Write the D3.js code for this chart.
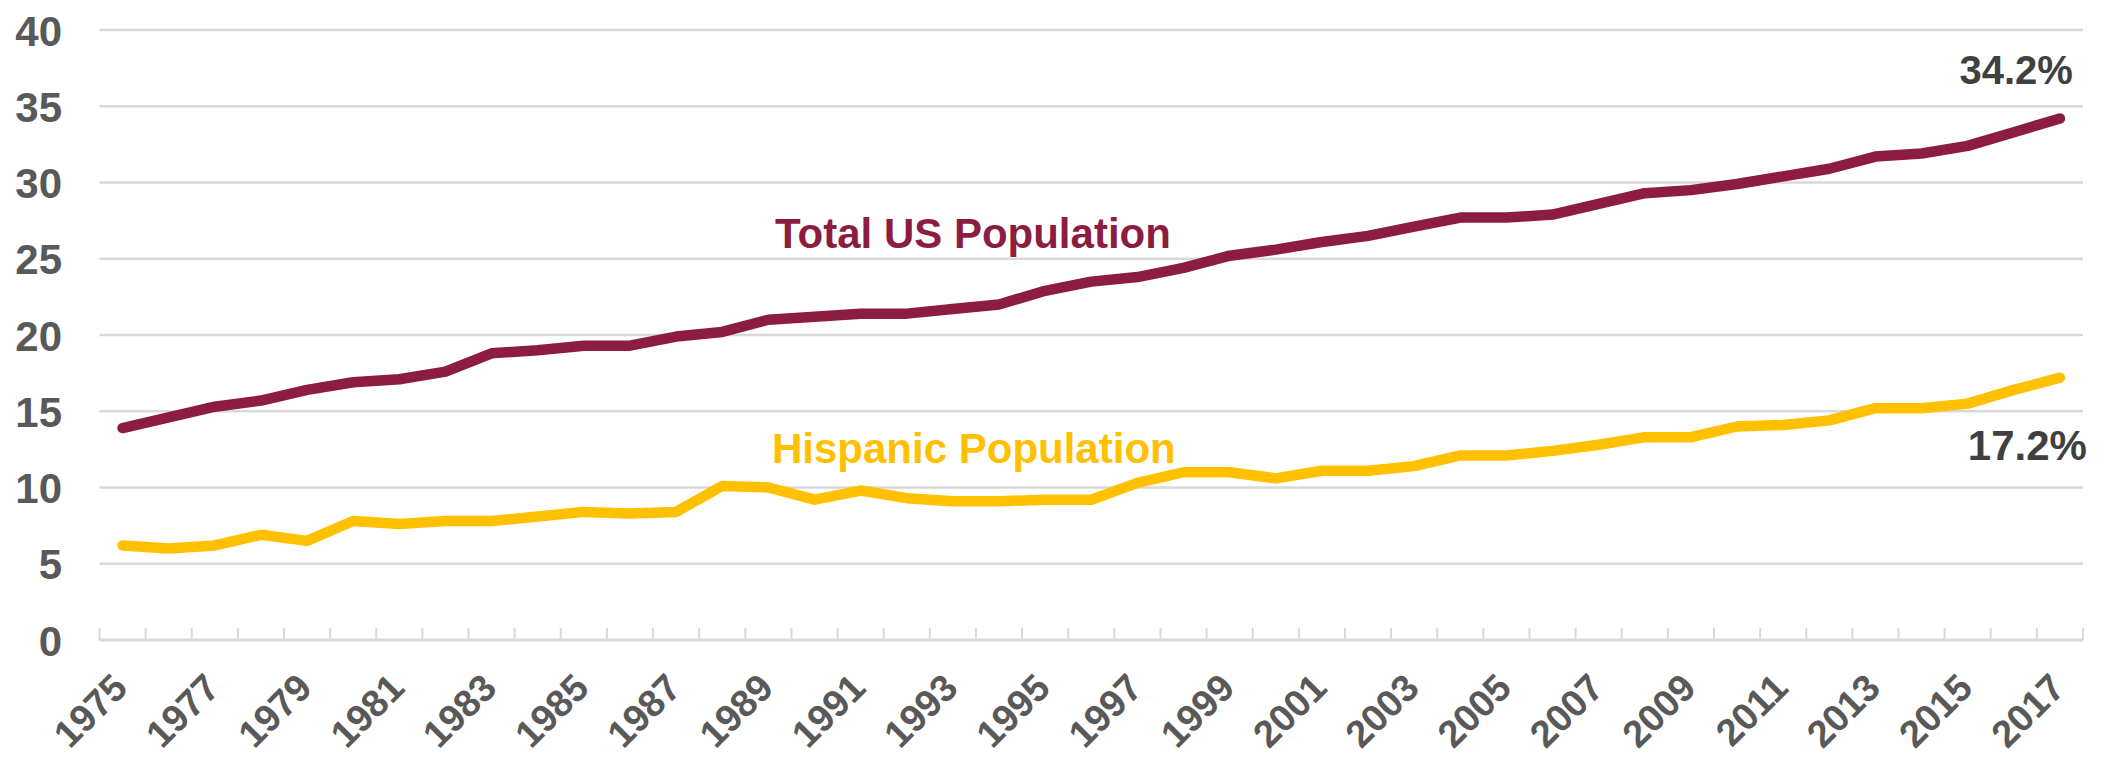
<!DOCTYPE html>
<html>
<head>
<meta charset="utf-8">
<script src="https://cdn.jsdelivr.net/npm/d3@7"></script>
<style>
  html, body { margin: 0; padding: 0; background: #ffffff; }
  svg { display: block; font-family: "Liberation Sans", Arial, sans-serif; }
</style>
</head>
<body>
<svg id="chart" width="2105" height="759"></svg>
<script>
// Share of population (%) by year
const years = d3.range(1975, 2018);
const totalUS = [13.9, 14.6, 15.3, 15.7, 16.4, 16.9, 17.1, 17.6, 18.8, 19.0,
                 19.3, 19.3, 19.9, 20.2, 21.0, 21.2, 21.4, 21.4, 21.7, 22.0,
                 22.9, 23.5, 23.8, 24.4, 25.2, 25.6, 26.1, 26.5, 27.1, 27.7,
                 27.7, 27.9, 28.6, 29.3, 29.5, 29.9, 30.4, 30.9, 31.7, 31.9,
                 32.4, 33.3, 34.2];
const hispanic = [6.2, 6.0, 6.2, 6.9, 6.5, 7.8, 7.6, 7.8, 7.8, 8.1,
                  8.4, 8.3, 8.4, 10.1, 10.0, 9.2, 9.8, 9.3, 9.1, 9.1,
                  9.2, 9.2, 10.3, 11.0, 11.0, 10.6, 11.1, 11.1, 11.4, 12.1,
                  12.1, 12.4, 12.8, 13.3, 13.3, 14.0, 14.1, 14.4, 15.2, 15.2,
                  15.5, 16.4, 17.2];
const yTicks = [0, 5, 10, 15, 20, 25, 30, 35, 40];
const xTickLabels = years.filter((y, i) => i % 2 === 0);

const series = [
  { name: "Total US Population", values: totalUS, color: "#8C1D40" },
  { name: "Hispanic Population", values: hispanic, color: "#FFC000" }
];

const svg = d3.select("#chart");
const margin = { left: 99.5, right: 2083, top: 30, bottom: 640 };

const x = d3.scaleBand().domain(years).range([margin.left, margin.right]).padding(0);
const y = d3.scaleLinear().domain([0, 40]).range([margin.bottom, margin.top]);
const cx = yr => x(yr) + x.bandwidth() / 2;

// horizontal gridlines
svg.append("g")
  .selectAll("line")
  .data(yTicks.filter(t => t > 0))
  .join("line")
  .attr("x1", margin.left).attr("x2", margin.right)
  .attr("y1", d => y(d)).attr("y2", d => y(d))
  .attr("stroke", "#d9d9d9").attr("stroke-width", 2.5);

// y axis labels
const yAxis = d3.axisLeft(y).tickValues(yTicks).tickSize(0).tickPadding(0);
svg.append("g")
  .attr("transform", `translate(62,0)`)
  .call(yAxis)
  .call(g => g.select(".domain").remove())
  .selectAll("text")
  .attr("fill", "#595959")
  .attr("font-size", 42)
  .attr("font-weight", "bold")
  .attr("font-family", "Liberation Sans, Arial, sans-serif")
  .attr("text-anchor", "end")
  .attr("dy", "0.36em");

// x axis baseline and category boundary ticks
const axisG = svg.append("g");
axisG.append("line")
  .attr("x1", margin.left).attr("x2", margin.right)
  .attr("y1", y(0)).attr("y2", y(0))
  .attr("stroke", "#d9d9d9").attr("stroke-width", 3);
const bounds = years.map(yr => x(yr)).concat([x(years[years.length - 1]) + x.bandwidth()]);
axisG.selectAll("line.tick")
  .data(bounds)
  .join("line")
  .attr("class", "tick")
  .attr("x1", d => d).attr("x2", d => d)
  .attr("y1", y(0)).attr("y2", y(0) - 12)
  .attr("stroke", "#d9d9d9").attr("stroke-width", 2);

// rotated year labels
svg.append("g")
  .selectAll("text")
  .data(xTickLabels)
  .join("text")
  .attr("transform", d => `translate(${cx(d) + 7},${y(0) + 50}) rotate(-45)`)
  .attr("text-anchor", "end")
  .attr("fill", "#595959")
  .attr("font-size", 38)
  .attr("font-weight", "bold")
  .text(d => d);

// series lines
const line = d3.line()
  .x((d, i) => cx(years[i]))
  .y(d => y(d));

svg.append("g")
  .selectAll("path")
  .data(series)
  .join("path")
  .attr("d", d => line(d.values))
  .attr("fill", "none")
  .attr("stroke", d => d.color)
  .attr("stroke-width", 10.5)
  .attr("stroke-linecap", "round")
  .attr("stroke-linejoin", "round");

// series names
svg.append("text")
  .attr("x", 775).attr("y", 248)
  .attr("fill", series[0].color)
  .attr("font-size", 42).attr("font-weight", "bold")
  .text(series[0].name);
svg.append("text")
  .attr("x", 772).attr("y", 463)
  .attr("fill", series[1].color)
  .attr("font-size", 42).attr("font-weight", "bold")
  .text(series[1].name);

// end-value labels
const last = years.length - 1;
svg.append("text")
  .attr("x", cx(years[last]) + 13).attr("y", y(totalUS[last]) - 34)
  .attr("text-anchor", "end")
  .attr("fill", "#404040")
  .attr("font-size", 40).attr("font-weight", "bold")
  .text(totalUS[last].toFixed(1) + "%");
svg.append("text")
  .attr("x", cx(years[last]) + 27).attr("y", y(hispanic[last]) + 82)
  .attr("text-anchor", "end")
  .attr("fill", "#404040")
  .attr("font-size", 42).attr("font-weight", "bold")
  .text(hispanic[last].toFixed(1) + "%");
</script>
</body>
</html>
